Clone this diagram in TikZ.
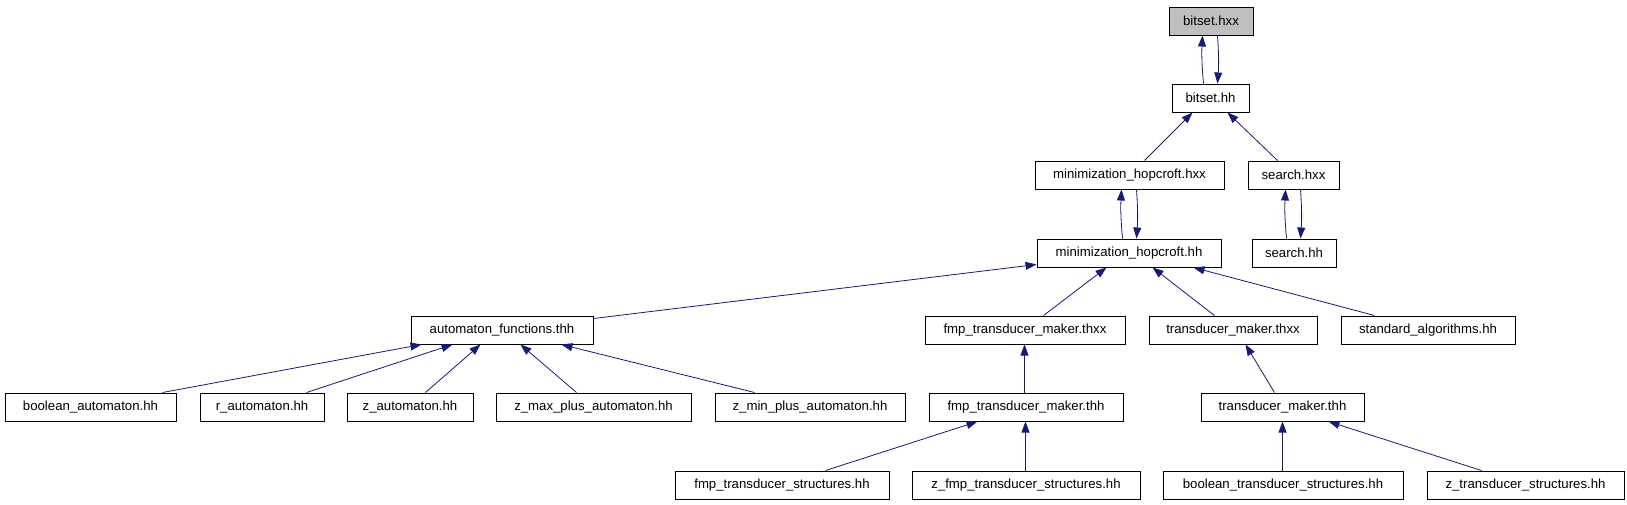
\documentclass[tikz,border=0pt]{standalone}
\usepackage{fontspec}
\setmainfont{Liberation Sans}
\usetikzlibrary{arrows.meta}
\definecolor{edgeblue}{HTML}{191970}
\definecolor{rootgray}{HTML}{BFBFBF}
\begin{document}
\begin{tikzpicture}[x=1pt,y=-1pt,
 box/.style={draw=black,line width=1pt,rectangle,minimum height=28pt,inner sep=0pt,font=\fontsize{13.2}{15}\selectfont,anchor=center},
 dep/.style={draw=edgeblue,line width=0.8pt,-{Triangle[length=11pt,width=8pt]}}]
\useasboundingbox (0,0) rectangle (1627,504);
% row 0
\node[box,minimum width=84pt,fill=rootgray] (bhxx) at (1211,21) {bitset.hxx};
% row 1
\node[box,minimum width=77pt] (bhh) at (1210.5,98) {bitset.hh};
% row 2
\node[box,minimum width=189pt] (mhxx) at (1129.5,175) {minimization\_hopcroft.hxx};
\node[box,minimum width=91pt] (shxx) at (1293.5,175) {search.hxx};
% row 3
\node[box,minimum width=184pt] (mhh) at (1129,253) {minimization\_hopcroft.hh};
\node[box,minimum width=84pt] (shh) at (1294,253) {search.hh};
% row 4
\node[box,minimum width=182pt] (af) at (502,330) {automaton\_functions.thh};
\node[box,minimum width=200pt] (fmpthxx) at (1025,330) {fmp\_transducer\_maker.thxx};
\node[box,minimum width=168pt] (tmthxx) at (1233,330) {transducer\_maker.thxx};
\node[box,minimum width=174pt] (std) at (1428,330) {standard\_algorithms.hh};
% row 5
\node[box,minimum width=171pt] (boolaut) at (90.5,407) {boolean\_automaton.hh};
\node[box,minimum width=124pt] (raut) at (262,407) {r\_automaton.hh};
\node[box,minimum width=126pt] (zaut) at (410,407) {z\_automaton.hh};
\node[box,minimum width=195pt] (zmax) at (593.5,407) {z\_max\_plus\_automaton.hh};
\node[box,minimum width=190pt] (zmin) at (810,407) {z\_min\_plus\_automaton.hh};
\node[box,minimum width=194pt] (fmpthh) at (1026,407) {fmp\_transducer\_maker.thh};
\node[box,minimum width=163pt] (tmthh) at (1282.5,407) {transducer\_maker.thh};
% row 6
\node[box,minimum width=214pt] (fmpstruct) at (782,485) {fmp\_transducer\_structures.hh};
\node[box,minimum width=228pt] (zfmp) at (1026,485) {z\_fmp\_transducer\_structures.hh};
\node[box,minimum width=240pt] (booltrans) at (1283,485) {boolean\_transducer\_structures.hh};
\node[box,minimum width=197pt] (ztrans) at (1525.5,485) {z\_transducer\_structures.hh};
% edges
\draw[dep] ([xshift=32pt]bhh.north west) to[bend left=4] ([xshift=34pt]bhxx.south west);
\draw[dep] ([xshift=49pt]bhxx.south west) to[bend left=4] ([xshift=46pt]bhh.north west);
\draw[dep] ([xshift=110pt]mhxx.north west) -- ([xshift=21pt]bhh.south west);
\draw[dep] ([xshift=30pt]shxx.north west) -- ([xshift=56pt]bhh.south west);
\draw[dep] ([xshift=86pt]mhh.north west) to[bend left=4] ([xshift=87pt]mhxx.south west);
\draw[dep] ([xshift=102pt]mhxx.south west) to[bend left=4] ([xshift=100pt]mhh.north west);
\draw[dep] ([xshift=35pt]shh.north west) to[bend left=4] ([xshift=38pt]shxx.south west);
\draw[dep] ([xshift=53pt]shxx.south west) to[bend left=4] ([xshift=49pt]shh.north west);
\draw[dep] ([yshift=-3pt]af.north east) -- ([yshift=3pt]mhh.south west);
\draw[dep] ([xshift=119pt]fmpthxx.north west) -- ([xshift=70pt]mhh.south west);
\draw[dep] ([xshift=66pt]tmthxx.north west) -- ([xshift=116pt]mhh.south west);
\draw[dep] ([xshift=34pt]std.north west) -- ([xshift=157pt]mhh.south west);
\draw[dep] ([xshift=158pt]boolaut.north west) -- ([xshift=11pt]af.south west);
\draw[dep] ([xshift=107pt]raut.north west) -- ([xshift=42pt]af.south west);
\draw[dep] ([xshift=79pt]zaut.north west) -- ([xshift=70pt]af.south west);
\draw[dep] ([xshift=81pt]zmax.north west) -- ([xshift=110pt]af.south west);
\draw[dep] ([xshift=40pt]zmin.north west) -- ([xshift=151pt]af.south west);
\draw[dep] ([xshift=96pt]fmpthh.north west) -- ([xshift=100pt]fmpthxx.south west);
\draw[dep] ([xshift=74pt]tmthh.north west) -- ([xshift=97pt]tmthxx.south west);
\draw[dep] ([xshift=151pt]fmpstruct.north west) -- ([xshift=49pt]fmpthh.south west);
\draw[dep] ([xshift=114pt]zfmp.north west) -- ([xshift=97pt]fmpthh.south west);
\draw[dep] ([xshift=120pt]booltrans.north west) -- ([xshift=82pt]tmthh.south west);
\draw[dep] ([xshift=55pt]ztrans.north west) -- ([xshift=128pt]tmthh.south west);
\end{tikzpicture}
\end{document}
